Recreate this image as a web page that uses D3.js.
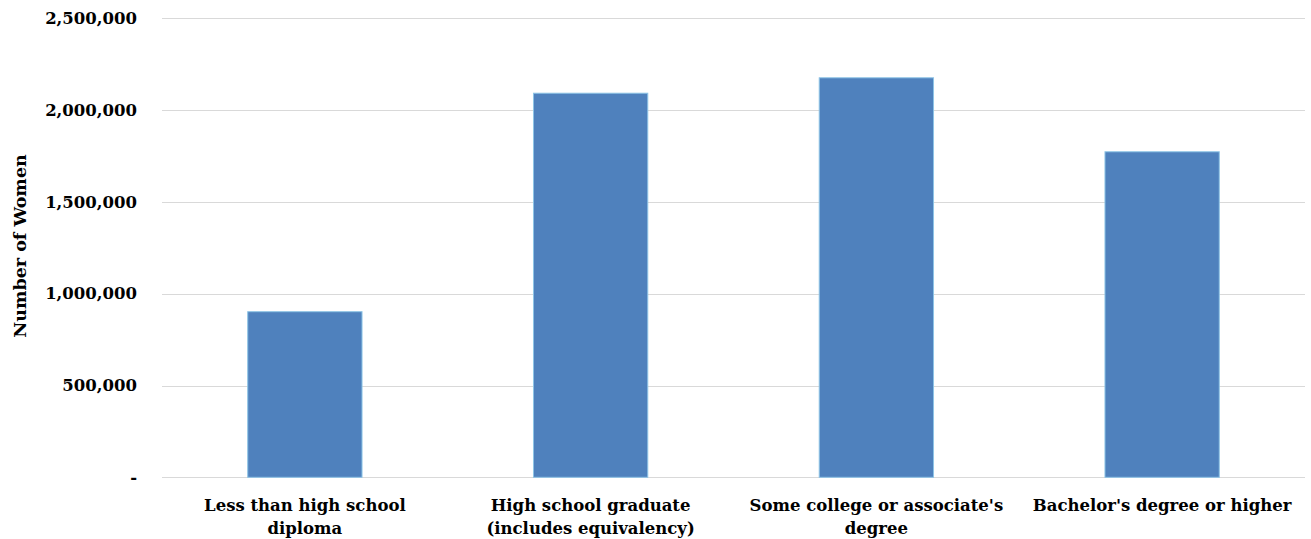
<!DOCTYPE html>
<html><head><meta charset="utf-8">
<script src="https://cdn.jsdelivr.net/npm/d3@7"></script>
<style>body{margin:0;background:#fff}svg{display:block}text{font-family:"DejaVu Serif",serif;font-weight:bold;fill:#000}</style>
</head><body><svg id="c" width="1311" height="539"></svg>
<script>
const categories = [["Less than high school","diploma"],["High school graduate","(includes equivalency)"],["Some college or associate's","degree"],["Bachelor's degree or higher"]];
const values = [902000, 2092000, 2176000, 1773000];
const yTicks = [0, 500000, 1000000, 1500000, 2000000, 2500000];
const yLabel = "Number of Women";

const FONT = "DejaVu Serif";
const svg = d3.select("#c");
const pLeft = 162, pRight = 1305, pTop = 18.3, pBottom = 477.3;
const x = d3.scaleBand().domain(d3.range(categories.length)).range([pLeft, pRight]).paddingInner(0.6).paddingOuter(0.3);
const y = d3.scaleLinear().domain([0, 2500000]).range([pBottom, pTop]);
const fmt = d3.format(",");

svg.append("g").selectAll("line").data(yTicks).join("line")
  .attr("x1", pLeft).attr("x2", pRight)
  .attr("y1", d => Math.round(y(d)) + 0.5).attr("y2", d => Math.round(y(d)) + 0.5)
  .attr("stroke", "#d9d9d9").attr("stroke-width", 1);

const yAxis = d3.axisLeft(y).tickValues(yTicks).tickSize(0).tickPadding(25)
  .tickFormat(d => d === 0 ? "-" : fmt(d));
const ga = svg.append("g").attr("transform", `translate(${pLeft},0)`).call(yAxis);
ga.select(".domain").remove();
ga.selectAll("text").attr("font-size", 16.5).attr("font-family", FONT).attr("font-weight", "bold").attr("fill", "#000");

svg.append("g").selectAll("rect").data(values).join("rect")
  .attr("x", (d, i) => x(i)).attr("width", x.bandwidth())
  .attr("y", d => y(d)).attr("height", d => pBottom - y(d))
  .attr("fill", "#4f81bd").attr("stroke", "#8ec4e6").attr("stroke-width", 1);

const xl = svg.append("g");
categories.forEach((lines, i) => {
  const t = xl.append("text").attr("text-anchor", "middle").attr("font-size", 16.5)
    .attr("x", x(i) + x.bandwidth() / 2);
  lines.forEach((l, j) => t.append("tspan").attr("x", x(i) + x.bandwidth() / 2).attr("y", 511 + j * 23).text(l));
});

svg.append("text").attr("transform", `translate(26,246) rotate(-90)`)
  .attr("text-anchor", "middle").attr("font-size", 17.5).text(yLabel);
</script></body></html>
